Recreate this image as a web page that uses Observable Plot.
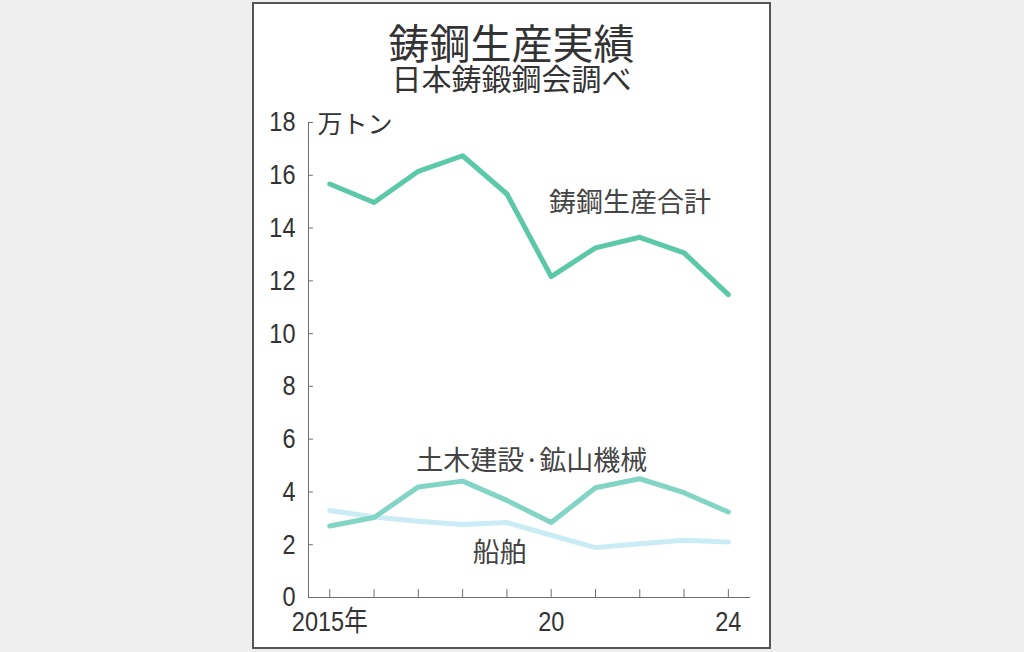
<!DOCTYPE html>
<html><head><meta charset="utf-8">
<script src="https://cdn.jsdelivr.net/npm/d3@7"></script>
<script src="https://cdn.jsdelivr.net/npm/@observablehq/plot@0.6"></script>
<style>
html,body{margin:0;padding:0;}
body{background:#efefef;width:1024px;height:652px;overflow:hidden;font-family:"Noto Sans CJK JP",sans-serif;position:relative;}
#box{position:absolute;left:252px;top:2px;width:515px;height:643px;border:2px solid #555;background:#fff;}
#title{position:absolute;left:0;width:100%;top:18.4px;height:39px;text-align:center;font-size:41px;line-height:39px;color:#333;white-space:nowrap;}
#subtitle{position:absolute;left:0;width:100%;top:59px;height:29px;text-align:center;font-size:30px;line-height:29px;color:#333;white-space:nowrap;}
#chart{position:absolute;left:0;top:96px;}
</style>
</head><body>
<div id="box">
  <div id="title">鋳鋼生産実績</div>
  <div id="subtitle">日本鋳鍛鋼会調べ</div>
  <div id="chart"></div>
</div>
<script>
// Data (万トン)
const years = [2015, 2016, 2017, 2018, 2019, 2020, 2021, 2022, 2023, 2024];
const total = [15.67, 14.97, 16.15, 16.74, 15.29, 12.16, 13.25, 13.65, 13.06, 11.48];
const civilMining = [2.71, 3.03, 4.19, 4.41, 3.68, 2.84, 4.16, 4.50, 3.97, 3.24];
const ships = [3.30, 3.05, 2.89, 2.77, 2.84, 2.36, 1.89, 2.04, 2.17, 2.10];

const seriesNames = ["鋳鋼生産合計", "土木建設·鉱山機械", "船舶"];
const yTicks = [0, 2, 4, 6, 8, 10, 12, 14, 16, 18];
const xTickLabels = ["2015年", "", "", "", "", "20", "", "", "", "24"];
const unitLabel = "万トン";

// label anchors (data units)
const labelYears = [2021.78, 2019.56, 2018.84];
const labelValues = [14.92, 5.16, 1.68];

const colors = ["#5bc9a7", "#82d4c4", "#c9ecf5"];
const xDomain = [2014.52, 2024.5];
const axisColor = "#6e6e6e";
const textColor = "#333";

const toRows = (vals, name) => years.map((yr, i) => ({year: yr, value: vals[i], series: name}));
const rowsTotal = toRows(total, seriesNames[0]);
const rowsCivil = toRows(civilMining, seriesNames[1]);
const rowsShips = toRows(ships, seriesNames[2]);
const labels = seriesNames.map((s, i) => ({text: s, x: labelYears[i], y: labelValues[i]}));

const tickShape = {draw(ctx, l) { ctx.moveTo(0, 0); ctx.lineTo(0, -l); }};
const numFont = '"Liberation Sans", "Noto Sans CJK JP", sans-serif';

const chart = Plot.plot({
  width: 515,
  height: 547,
  marginLeft: 54,
  marginRight: 19,
  marginTop: 22,
  marginBottom: 50,
  style: {fontFamily: numFont, fontSize: "28px", color: textColor, background: "transparent", overflow: "visible"},
  x: {domain: xDomain},
  y: {domain: [0, 18]},
  marks: [
    Plot.ruleX([xDomain[0]], {stroke: axisColor, strokeWidth: 1}),
    Plot.ruleY([0], {stroke: axisColor, strokeWidth: 1}),
    Plot.vector(yTicks, {x: () => xDomain[0], y: d => d, length: 4, rotate: 90, anchor: "start", shape: tickShape, stroke: axisColor, strokeWidth: 1}),
    Plot.vector(years, {x: d => d, y: () => 0, length: 8, rotate: 0, anchor: "start", shape: tickShape, stroke: axisColor, strokeWidth: 1}),
    Plot.axisY({ticks: yTicks, tickSize: 0, tickPadding: 13, fontSize: 28, fill: textColor}),
    Plot.axisX({ticks: years, tickSize: 0, tickPadding: 14, fontSize: 28, fill: textColor, tickFormat: (d) => xTickLabels[years.indexOf(d)]}),
    Plot.line(rowsShips, {x: "year", y: "value", stroke: colors[2], strokeWidth: 5, strokeLinejoin: "round", strokeLinecap: "round"}),
    Plot.line(rowsCivil, {x: "year", y: "value", stroke: colors[1], strokeWidth: 5, strokeLinejoin: "round", strokeLinecap: "round"}),
    Plot.line(rowsTotal, {x: "year", y: "value", stroke: colors[0], strokeWidth: 5, strokeLinejoin: "round", strokeLinecap: "round"}),
    Plot.text(labels, {x: "x", y: "y", text: "text", fontSize: 27, fill: "#444", fontFamily: '"Noto Sans CJK JP", sans-serif'}),
    Plot.text([unitLabel], {x: () => xDomain[0], y: () => 18, text: d => d, textAnchor: "start", dx: 9, dy: 2, fontSize: 25, fill: textColor, fontFamily: '"Noto Sans CJK JP", sans-serif'})
  ]
});

// condense the numeric tick labels horizontally (narrow grotesque look)
chart.querySelectorAll('g[aria-label="y-axis tick label"] text, g[aria-label="x-axis tick label"] text').forEach((t) => {
  let tr = t.getAttribute("transform");
  if (!tr) {
    const x = +t.getAttribute("x") || 0, y = +t.getAttribute("y") || 0;
    t.removeAttribute("x"); t.removeAttribute("y");
    tr = `translate(${x},${y})`;
  }
  t.setAttribute("transform", tr + " scale(0.84,1)");
});

document.getElementById("chart").appendChild(chart);
</script>
</body></html>
